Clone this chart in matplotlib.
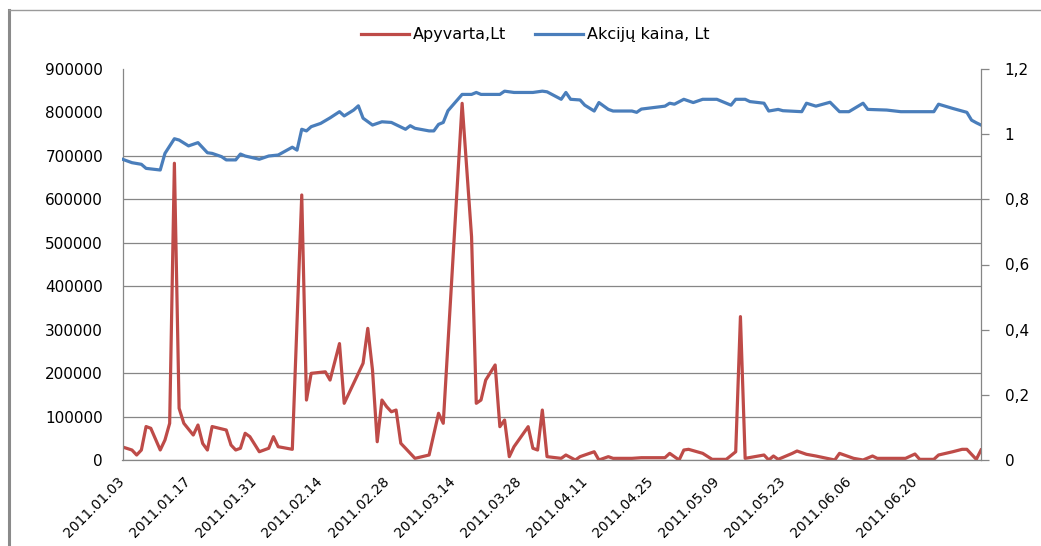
import numpy as np
import pandas as pd
import matplotlib
matplotlib.use("Agg")
import matplotlib.pyplot as plt
import matplotlib.dates as mdates
from matplotlib.lines import Line2D

# Apyvarta, Lt (left axis)
turnover_dates = ["2011-01-03", "2011-01-05", "2011-01-06", "2011-01-07", "2011-01-08", "2011-01-09",
                  "2011-01-11", "2011-01-12", "2011-01-13", "2011-01-14", "2011-01-15", "2011-01-16",
                  "2011-01-18", "2011-01-19", "2011-01-20", "2011-01-21", "2011-01-22", "2011-01-25",
                  "2011-01-26", "2011-01-27", "2011-01-28", "2011-01-29", "2011-01-30", "2011-02-01",
                  "2011-02-03", "2011-02-04", "2011-02-05", "2011-02-08", "2011-02-10", "2011-02-11",
                  "2011-02-12", "2011-02-15", "2011-02-16", "2011-02-18", "2011-02-19", "2011-02-22",
                  "2011-02-23", "2011-02-24", "2011-02-25", "2011-02-26", "2011-02-27", "2011-02-28",
                  "2011-03-01", "2011-03-02", "2011-03-03", "2011-03-04", "2011-03-06", "2011-03-09",
                  "2011-03-11", "2011-03-12", "2011-03-16", "2011-03-18", "2011-03-19", "2011-03-20",
                  "2011-03-21", "2011-03-23", "2011-03-24", "2011-03-25", "2011-03-26", "2011-03-27",
                  "2011-03-30", "2011-03-31", "2011-04-01", "2011-04-02", "2011-04-03", "2011-04-06",
                  "2011-04-07", "2011-04-09", "2011-04-10", "2011-04-12", "2011-04-13", "2011-04-14",
                  "2011-04-16", "2011-04-17", "2011-04-21", "2011-04-23", "2011-04-28", "2011-04-29",
                  "2011-05-01", "2011-05-02", "2011-05-03", "2011-05-06", "2011-05-08", "2011-05-11",
                  "2011-05-13", "2011-05-14", "2011-05-15", "2011-05-19", "2011-05-20", "2011-05-21",
                  "2011-05-22", "2011-05-25", "2011-05-26", "2011-05-28", "2011-05-30", "2011-06-03",
                  "2011-06-04", "2011-06-07", "2011-06-09", "2011-06-11", "2011-06-12", "2011-06-18",
                  "2011-06-20", "2011-06-21", "2011-06-24", "2011-06-25", "2011-06-28", "2011-06-30",
                  "2011-07-01", "2011-07-03", "2011-07-04"]
turnover = [30000, 23000, 11500, 23000, 77000, 73000, 23000, 46000, 84500, 683000,
            119000, 84500, 57500, 80500, 38000, 23000, 77000, 69000, 34500, 23000,
            27000, 61500, 53700, 19000, 27000, 53700, 30600, 24600, 610000, 138000,
            199500, 203000, 184000, 268000, 130500, 199500, 222600, 303000, 207000, 42000,
            138000, 122700, 111000, 115000, 38400, 27000, 3800, 11500, 107500, 84500,
            821000, 514000, 130500, 138000, 184000, 218700, 76700, 92000, 7700, 30600,
            76700, 27000, 23000, 115000, 7700, 3800, 11500, 0, 7700, 15300,
            19000, 0, 7700, 3800, 3800, 5300, 5300, 15300, 0, 23000,
            24600, 15300, 1500, 1500, 19000, 330000, 3800, 11500, 0, 9200,
            1500, 15300, 20700, 13100, 9200, 0, 15300, 3800, 0, 9200,
            3800, 3800, 13800, 1500, 1500, 11500, 19000, 24600, 24600, 1500,
            23000]

# Akcijų kaina, Lt (right axis)
price_dates = ["2011-01-03", "2011-01-05", "2011-01-07", "2011-01-08", "2011-01-11", "2011-01-12",
               "2011-01-14", "2011-01-15", "2011-01-17", "2011-01-19", "2011-01-21", "2011-01-22",
               "2011-01-24", "2011-01-25", "2011-01-27", "2011-01-28", "2011-01-29", "2011-02-01",
               "2011-02-03", "2011-02-05", "2011-02-08", "2011-02-09", "2011-02-10", "2011-02-11",
               "2011-02-12", "2011-02-14", "2011-02-16", "2011-02-18", "2011-02-19", "2011-02-21",
               "2011-02-22", "2011-02-23", "2011-02-25", "2011-02-27", "2011-03-01", "2011-03-04",
               "2011-03-05", "2011-03-06", "2011-03-09", "2011-03-10", "2011-03-11", "2011-03-12",
               "2011-03-13", "2011-03-16", "2011-03-18", "2011-03-19", "2011-03-20", "2011-03-24",
               "2011-03-25", "2011-03-27", "2011-03-31", "2011-04-02", "2011-04-03", "2011-04-06",
               "2011-04-07", "2011-04-08", "2011-04-10", "2011-04-11", "2011-04-13", "2011-04-14",
               "2011-04-16", "2011-04-17", "2011-04-21", "2011-04-22", "2011-04-23", "2011-04-28",
               "2011-04-29", "2011-04-30", "2011-05-02", "2011-05-04", "2011-05-06", "2011-05-09",
               "2011-05-12", "2011-05-13", "2011-05-15", "2011-05-16", "2011-05-19", "2011-05-20",
               "2011-05-22", "2011-05-23", "2011-05-27", "2011-05-28", "2011-05-30", "2011-06-02",
               "2011-06-04", "2011-06-06", "2011-06-09", "2011-06-10", "2011-06-14", "2011-06-17",
               "2011-06-24", "2011-06-25", "2011-06-28", "2011-07-01", "2011-07-02", "2011-07-03",
               "2011-07-04"]
price = [0.923, 0.9125, 0.9075, 0.895, 0.890, 0.941, 0.986, 0.982, 0.964, 0.974, 0.943, 0.941,
         0.931, 0.921, 0.921, 0.939, 0.933, 0.923, 0.933, 0.936, 0.960, 0.951, 1.015, 1.010,
         1.023, 1.033, 1.050, 1.069, 1.056, 1.074, 1.087, 1.049, 1.028, 1.038, 1.036, 1.015,
         1.026, 1.018, 1.010, 1.010, 1.030, 1.036, 1.072, 1.122, 1.122, 1.128, 1.122, 1.122,
         1.132, 1.128, 1.128, 1.132, 1.130, 1.107, 1.128, 1.107, 1.105, 1.089, 1.071, 1.097,
         1.076, 1.071, 1.071, 1.067, 1.077, 1.086, 1.095, 1.092, 1.107, 1.097, 1.107, 1.107,
         1.089, 1.107, 1.107, 1.100, 1.095, 1.071, 1.076, 1.072, 1.069, 1.095, 1.086, 1.098,
         1.069, 1.069, 1.095, 1.076, 1.074, 1.069, 1.069, 1.092, 1.079, 1.067, 1.043, 1.035,
         1.028]

left_ticks = [0, 100000, 200000, 300000, 400000, 500000, 600000, 700000, 800000, 900000]
right_ticks = [0, 0.2, 0.4, 0.6, 0.8, 1.0, 1.2]
right_labels = ["0", "0,2", "0,4", "0,6", "0,8", "1", "1,2"]
hidden_grid = [300000, 800000, 900000]

W, H = 1041, 546
fig = plt.figure(figsize=(W / 100, H / 100), dpi=100)
ax = fig.add_axes([122.5 / W, 1 - 460 / H, (981 - 122.5) / W, (460 - 69) / H])
ax2 = ax.twinx()

red = "#BE4B48"
blue = "#4A7EBB"
gray = "#868686"

ax.plot(pd.to_datetime(turnover_dates), turnover, color=red, lw=2.3, label="Apyvarta,Lt")
ax2.plot(pd.to_datetime(price_dates), price, color=blue, lw=2.3, label="Akcijų kaina, Lt")

ax.set_xlim(pd.Timestamp("2011-01-03"), pd.Timestamp("2011-07-04"))
ax.set_ylim(0, 900000)
ax2.set_ylim(0, 1.2)

ax.set_yticks(left_ticks)
ax.set_yticklabels([str(v) for v in left_ticks])
ax2.set_yticks(right_ticks)
ax2.set_yticklabels(right_labels)

ax.set_xticks(pd.date_range("2011-01-03", "2011-06-20", freq="14D"))
ax.xaxis.set_major_formatter(mdates.DateFormatter("%Y.%m.%d"))
for lbl in ax.get_xticklabels():
    lbl.set_rotation(45)
    lbl.set_ha("right")
    lbl.set_va("center")
    lbl.set_rotation_mode("anchor")

ax.grid(axis="y", color=gray, lw=0.9)
for v, gl in zip(left_ticks, ax.yaxis.get_gridlines()):
    if v in hidden_grid:
        gl.set_visible(False)
ax.set_axisbelow(True)

for a in (ax, ax2):
    for s in a.spines.values():
        s.set_color(gray)
        s.set_linewidth(0.9)
    a.spines["top"].set_visible(False)
ax.spines["right"].set_visible(False)
ax2.spines["left"].set_visible(False)
ax2.spines["bottom"].set_visible(False)

ax.tick_params(axis="y", length=0, pad=14, labelsize=11, colors="black")
ax.tick_params(axis="x", length=0, pad=14, labelsize=10)
ax2.tick_params(axis="y", length=6, width=0.9, color=gray, pad=11, labelsize=11)

handles = ax.get_lines() + ax2.get_lines()
fig.legend(handles, [h.get_label() for h in handles], loc="center",
           bbox_to_anchor=(535.5 / W, 1 - 35 / H), ncol=2, frameon=False,
           fontsize=11.5, handlelength=3.0, handletextpad=0.25, columnspacing=1.8)

# chart border
fig.add_artist(Line2D([9 / W, 9 / W], [0, 1 - 10 / H], transform=fig.transFigure,
                      color="#8a8a8a", lw=2.2))
fig.add_artist(Line2D([9 / W, 1], [1 - 10 / H, 1 - 10 / H], transform=fig.transFigure,
                      color="#9a9a9a", lw=1.0))

fig.savefig("out.png", dpi=100)
